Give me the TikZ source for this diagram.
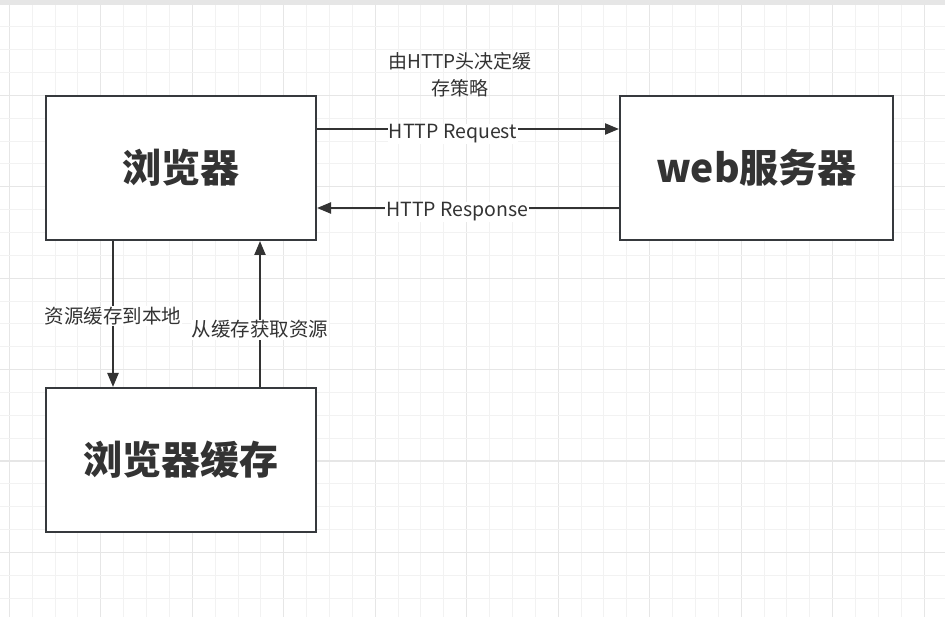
\documentclass[tikz,border=0pt]{standalone}
\usepackage{fontspec}
\setmainfont{Noto Sans CJK SC}
\usetikzlibrary{arrows.meta}
\definecolor{ink}{HTML}{333333}
\definecolor{boxline}{HTML}{36393D}
\definecolor{gridminor}{HTML}{F2F2F2}
\definecolor{gridmajor}{HTML}{E6E6E6}
\tikzset{
  boxnode/.style={draw=boxline, line width=2pt, fill=white, minimum width=270pt, minimum height=144pt, inner sep=0pt, font=\fontsize{39}{43}\selectfont\bfseries, text=ink},
  conn/.style={draw=ink, line width=2.2pt, -{Triangle[length=14pt,width=11pt]}},
  lbl/.style={fill=white, inner sep=1pt, text=ink, font=\fontsize{19.5}{23}\selectfont},
  note/.style={text=ink, font=\fontsize{19}{27}\selectfont, align=center, inner sep=0pt}
}
\begin{document}
\begin{tikzpicture}[x=1pt,y=-1pt]
\useasboundingbox (0,0) rectangle (945,617);
\fill[white] (0,0) rectangle (945,617);
% grid
\foreach \i in {0,...,41} {
  \pgfmathsetmacro\xx{9.3+\i*22.87}
  \pgfmathtruncatemacro\m{mod(\i,4)}
  \ifnum\m=0 \draw[gridmajor,line width=1.2pt] (\xx,0) -- (\xx,617);
  \else \draw[gridminor,line width=1pt] (\xx,0) -- (\xx,617); \fi
}
\foreach \i in {0,...,27} {
  \pgfmathsetmacro\yy{4+\i*22.85}
  \pgfmathtruncatemacro\m{mod(\i,4)}
  \ifnum\m=0 \draw[gridmajor,line width=1.2pt] (0,\yy) -- (945,\yy);
  \else \draw[gridminor,line width=1pt] (0,\yy) -- (945,\yy); \fi
}
\fill[gridmajor] (0,0) rectangle (945,4);
% boxes
\node[boxnode] (browser) at (181,168) {\raisebox{-5pt}{浏览器}};
\node[boxnode, minimum width=273pt] (server) at (756.5,168) {\raisebox{-5pt}{web服务器}};
\node[boxnode] (cache) at (181,460) {\raisebox{-5pt}{浏览器缓存}};
% coordinates
\coordinate (reqS) at (browser.east |- 0,129);
\coordinate (reqE) at (server.west |- 0,129);
\coordinate (resS) at (server.west |- 0,208);
\coordinate (resE) at (browser.east |- 0,208);
\coordinate (dnS) at (113,0 |- browser.south);
\coordinate (dnE) at (113,0 |- cache.north);
\coordinate (upS) at (260,0 |- cache.north);
\coordinate (upE) at (260,0 |- browser.south);
% connectors
\draw[conn] (reqS) -- node[lbl, pos=0.45, yshift=-5pt] {HTTP Request} (reqE);
\draw[conn] (resS) -- node[lbl, pos=0.535, yshift=-4pt] {HTTP Response} (resE);
\draw[conn] (dnS) -- node[lbl, pos=0.5, yshift=-2pt] {资源缓存到本地} (dnE);
\draw[conn] (upS) -- node[lbl, pos=0.4, yshift=-1pt] {从缓存获取资源} (upE);
% note
\node[note] (policy) at (460,75) {由HTTP头决定缓\\存策略};
\end{tikzpicture}
\end{document}
